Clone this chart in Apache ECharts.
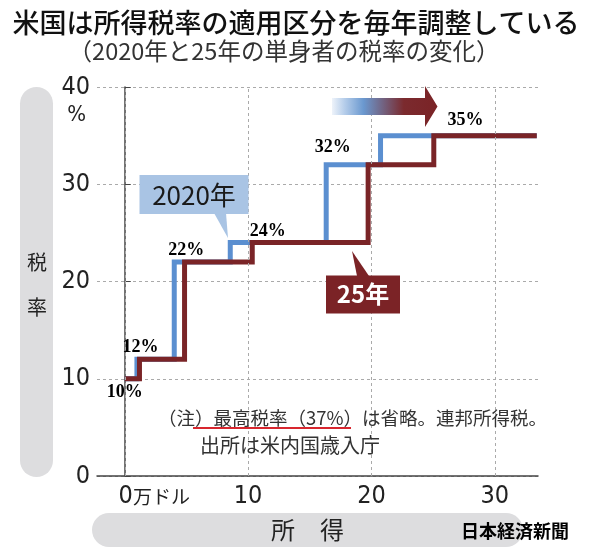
<!DOCTYPE html>
<html><head><meta charset="utf-8">
<script src="https://cdn.jsdelivr.net/npm/echarts@6/dist/echarts.min.js"></script>
<style>html,body{margin:0;padding:0;background:#fff}#c{width:590px;height:549px}</style>
</head><body><div id="c"></div>
<script>
// ---- data ----
const incomeTicks = [0, 10, 20, 30];          // 万ドル
const rateTicks = [0, 10, 20, 30, 40];        // %
const rates = [10, 12, 22, 24, 32, 35, 35];
const thresholds2020 = [0, 0.9875, 4.0125, 8.5525, 16.33, 20.735, 33.4];
const thresholds2025 = [0, 1.1925, 4.8475, 10.335, 19.73, 25.0525, 33.4];
const rateLabels = ['10%', '12%', '22%', '24%', '32%', '35%'];

// ---- style ----
const NARROW = "'Liberation Sans Narrow','DejaVu Sans Condensed','Arial Narrow',sans-serif";
const JP = "'Noto Sans CJK JP','Noto Sans',sans-serif";
const BLUE = '#5b8fd0';
const RED = '#7a2427';
const labelOffsets = [[0, 14], [3.5, -12], [12, -12], [37.5, -11], [6.6, -17], [85, -15]];

function txt(text, x, y, font, fill, align) {
  return { type: 'text', x: x, y: y, z: 20,
    style: { text: text, font: font, fill: fill || '#111',
      align: align || 'center', verticalAlign: 'middle',
      textAlign: align || 'center', textVerticalAlign: 'middle' } };
}

const chart = echarts.init(document.getElementById('c'), null, { renderer: 'canvas' });
const option = {
  backgroundColor: '#fff',
  animation: false,
  grid: { left: 97, top: 87, width: 441, height: 389, containLabel: false },
  xAxis: {
    type: 'value', min: -2.25, max: 33.5,
    axisLine: { show: true, lineStyle: { color: '#444', width: 1.5 } },
    axisTick: { show: false },
    splitLine: { show: false },
    axisLabel: {
      customValues: incomeTicks,
      margin: 8,
      formatter: v => v === 0 ? '{z|0}{u|万ドル}' : '{n|' + v + '}',
      rich: {
        z: { fontSize: 25, fontFamily: NARROW, color: '#222', padding: [0, 0, 0, 59] },
        u: { fontSize: 19, fontFamily: JP, color: '#222' },
        n: { fontSize: 25, fontFamily: NARROW, color: '#222' }
      }
    }
  },
  yAxis: {
    type: 'value', min: 0, max: 40, interval: 10,
    axisLine: { show: true, lineStyle: { color: '#444', width: 1.5 } },
    axisTick: { show: true, inside: true, length: 6, lineStyle: { color: '#444' } },
    splitLine: { show: true, lineStyle: { color: '#aaa', width: 1, type: [3, 3] } },
    axisLabel: {
      margin: 7,
      formatter: v => v === 40 ? '{e| }\n{n|40}\n{p|%}' : '{n|' + v + '}',
      rich: {
        e: { height: 28, fontSize: 10 },
        n: { fontSize: 25, height: 28, fontFamily: NARROW, color: '#222' },
        p: { fontSize: 22, height: 28, fontFamily: NARROW, color: '#222', padding: [0, 4, 0, 0] }
      }
    }
  },
  series: [
    {
      type: 'line', data: [[0, 0]], symbol: 'none', lineStyle: { opacity: 0 }, silent: true, z: 1,
      markLine: {
        silent: true, symbol: ['none', 'none'], label: { show: false },
        lineStyle: { color: '#aaa', width: 1, type: [3, 3] },
        data: incomeTicks.map(v => ({ xAxis: v }))
      }
    },
    {
      name: '2020年', type: 'line', step: 'end', symbol: 'none', z: 3,
      data: thresholds2020.map((x, i) => [x, rates[i]]),
      lineStyle: { color: BLUE, width: 5, join: 'miter', cap: 'butt' }
    },
    {
      name: '25年', type: 'line', step: 'end', symbol: 'none', z: 4,
      data: thresholds2025.map((x, i) => [x, rates[i]]),
      lineStyle: { color: RED, width: 5, join: 'miter', cap: 'butt' }
    },
    {
      type: 'scatter', symbolSize: 1, z: 6, silent: true,
      itemStyle: { color: '#fff', opacity: 0 },
      data: rateLabels.map((t, i) => ({
        value: [thresholds2020[i], rates[i]],
        label: { offset: labelOffsets[i] }
      })),
      label: {
        show: true, position: 'inside', opacity: 1,
        formatter: p => rateLabels[p.dataIndex],
        fontFamily: "'Liberation Serif','Times New Roman',serif",
        fontWeight: 'bold', fontSize: 18, color: '#000', textBorderWidth: 0
      }
    }
  ],
  graphic: [
    // title & subtitle
    txt('米国は所得税率の適用区分を毎年調整している', 296, 23, '500 27px ' + JP, '#111'),
    txt('（2020年と25年の単身者の税率の変化）', 284, 51, 'normal 23.5px ' + JP, '#333'),
    // left axis name bar
    { type: 'rect', z: 1, shape: { x: 20, y: 87, width: 33, height: 390, r: 16.5 }, style: { fill: '#dddddf' } },
    txt('税', 37, 262, 'normal 20px ' + JP, '#222'),
    txt('率', 37, 307, 'normal 20px ' + JP, '#222'),
    // bottom axis name bar
    { type: 'rect', z: 1, shape: { x: 92, y: 513, width: 431, height: 34, r: 17 }, style: { fill: '#dddddf' } },
    txt('所', 283, 530, 'normal 24px ' + JP, '#222'),
    txt('得', 332, 530, 'normal 24px ' + JP, '#222'),
    txt('日本経済新聞', 515, 531, 'bold 18px ' + JP, '#000'),
    // gradient arrow
    { type: 'polygon', z: 10,
      shape: { points: [[332, 98], [425, 98], [425, 86], [437.5, 106.5], [425, 127], [425, 115], [332, 115]] },
      style: { fill: new echarts.graphic.LinearGradient(0, 0, 1, 0, [
        { offset: 0, color: '#eef3fa' }, { offset: 0.12, color: '#b5cdea' },
        { offset: 0.3, color: '#6a98cf' }, { offset: 0.68, color: '#7b2a2e' }, { offset: 1, color: '#7a2326' }]) } },
    // 2020 callout
    { type: 'rect', z: 10, shape: { x: 139.5, y: 175, width: 109, height: 39 }, style: { fill: '#a9c4e4' } },
    { type: 'polygon', z: 10, shape: { points: [[214, 213], [226, 213], [228, 238]] }, style: { fill: '#a9c4e4' } },
    txt('2020年', 194, 195, 'normal 26px ' + JP, '#1a1a1a'),
    // 25 callout
    { type: 'rect', z: 10, shape: { x: 326, y: 275.5, width: 74, height: 38 }, style: { fill: '#7b2326' } },
    { type: 'polygon', z: 10, shape: { points: [[352, 251], [357, 276], [369, 276]] }, style: { fill: '#7b2326' } },
    txt('25年', 363, 294, 'bold 24px ' + JP, '#fff'),
    // note
    txt('（注）最高税率（37%）は省略。連邦所得税。', 158, 418, 'normal 18.5px ' + JP, '#333', 'left'),
    txt('出所は米内国歳入庁', 200, 445, 'normal 20px ' + JP, '#333', 'left'),
    { type: 'line', z: 19, shape: { x1: 193, y1: 428, x2: 351, y2: 428 }, style: { stroke: '#d8262e', lineWidth: 2 } }
  ]
};
chart.setOption(option);
</script>
</body></html>
